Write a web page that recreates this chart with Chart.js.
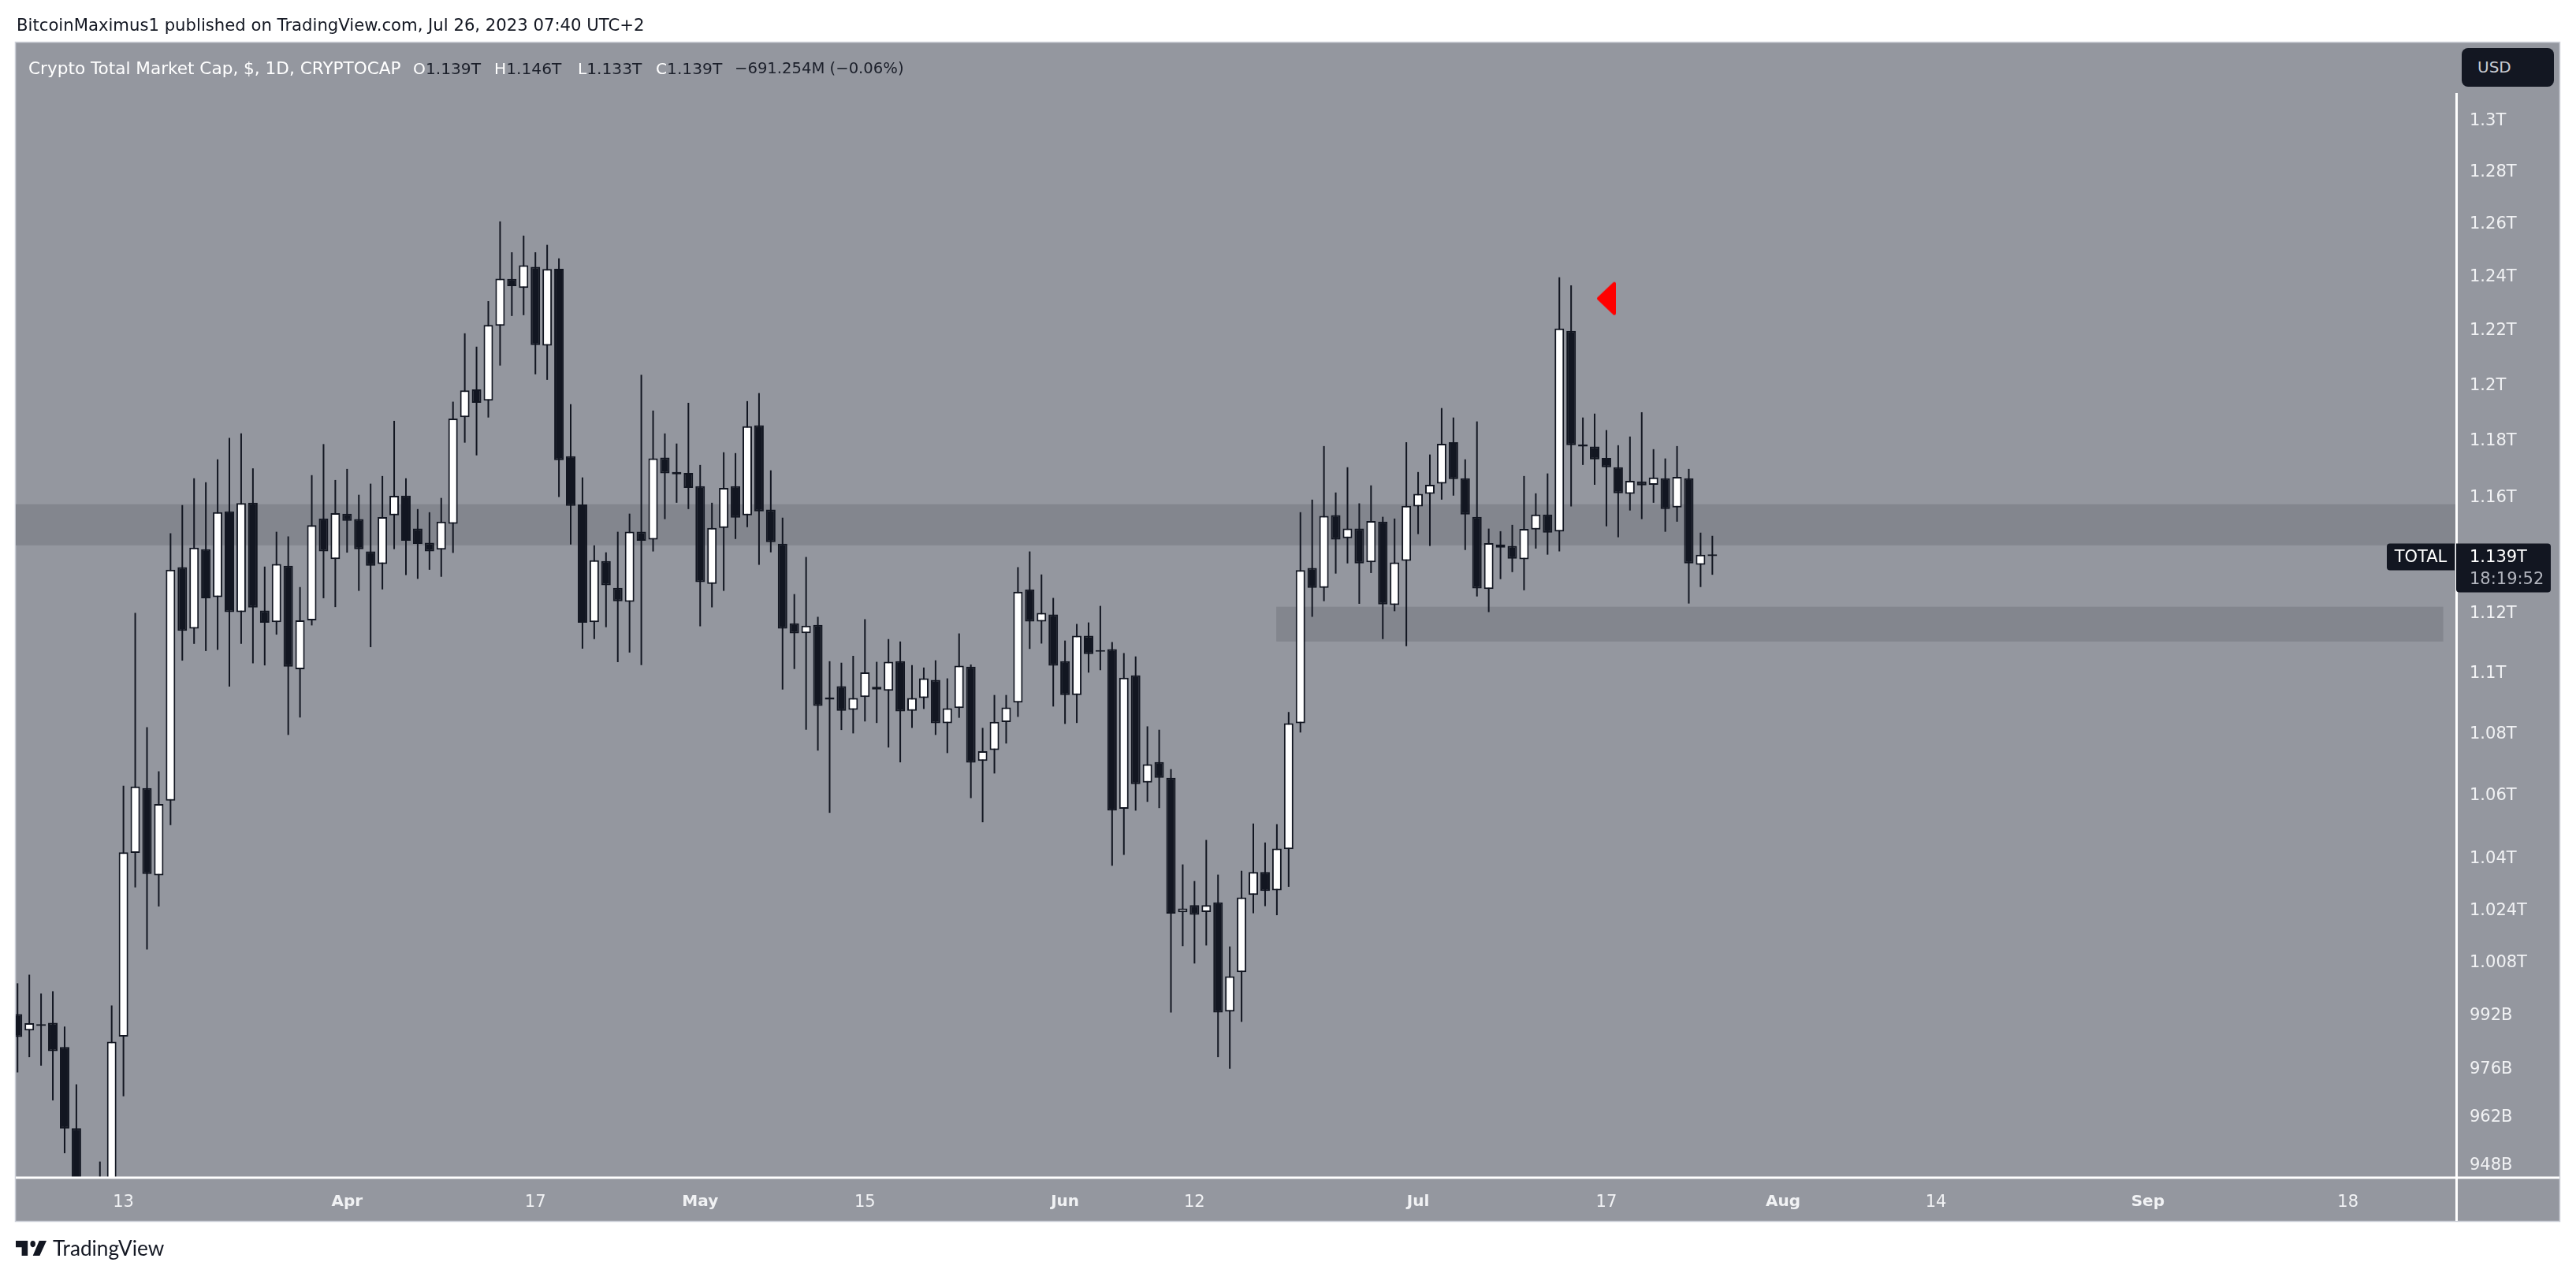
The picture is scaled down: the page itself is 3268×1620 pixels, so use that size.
<!DOCTYPE html>
<html><head><meta charset="utf-8">
<script src="https://cdn.jsdelivr.net/npm/chart.js@4"></script>
<style>
html,body{margin:0;padding:0;background:#fff;width:3268px;height:1620px;overflow:hidden;font-family:"DejaVu Sans",sans-serif}
canvas{position:absolute;left:0;top:0}
.t{position:absolute;white-space:pre;line-height:1}
#byline{left:21px;top:21px;font-size:21.2px;color:#131722}
.lg{top:77px;font-size:20.2px;color:#1b1f2a}
.lg i{font-style:normal;color:#fff}
#usd{position:absolute;left:3123px;top:61px;width:117px;height:49px;border-radius:8px;background:#131722;color:#c9ccd3;font-size:20px;line-height:49px;text-indent:20px}
#logo{position:absolute;left:20px;top:1574px;width:39px;height:19px}
#brand{left:67px;top:1570px;font-size:26.2px;color:#131722;font-family:"Lato",sans-serif}
</style></head><body>
<canvas id="c" width="3268" height="1620"></canvas>
<div class="t" id="byline">BitcoinMaximus1 published on TradingView.com, Jul 26, 2023 07:40 UTC+2</div>
<div class="t lg" style="left:36px;top:76px;font-size:21.6px;color:#fff">Crypto Total Market Cap, $, 1D, CRYPTOCAP</div>
<div class="t lg" style="left:524px"><i>O</i>1.139T</div>
<div class="t lg" style="left:627px"><i>H</i>1.146T</div>
<div class="t lg" style="left:733px"><i>L</i>1.133T</div>
<div class="t lg" style="left:832px"><i>C</i>1.139T</div>
<div class="t lg" style="left:932px;font-size:19.6px">−691.254M (−0.06%)</div>
<div id="usd">USD</div>
<svg id="logo" viewBox="0 6 36 14" preserveAspectRatio="none"><path fill="#131722" d="M14 6H0v6h7v8h7V6Z"/><circle fill="#131722" cx="20" cy="9" r="3"/><path fill="#131722" d="M28 20h-8l7.5-14H36l-8 14Z"/></svg>
<div class="t" id="brand">TradingView</div>
<script>
// Daily candles in billions of USD, first candle is 4 Mar 2023
const opens=[991.6,986.7,988.6,989,981.8,958,936,918,926,984.9,1041.1,1061.7,1034.1,1057.7,1135,1114.1,1141.2,1124.8,1154.3,1119.7,1157.3,1120.2,1116.3,1135.5,1100.5,1116.9,1151.8,1137.8,1153.5,1151.6,1140.4,1136.1,1152.9,1159.8,1148.3,1143.4,1141,1150,1187.6,1197.6,1193.6,1220.9,1238.3,1234.9,1242.8,1213.6,1242.1,1173.7,1156.7,1116.3,1137.1,1127.9,1123.2,1147.2,1144.5,1173.2,1168.1,1167.8,1163.1,1129.3,1148.5,1163.1,1152.9,1184.7,1154.9,1143.1,1115.9,1112.6,1115.4,1091.2,1094.9,1087.1,1091.3,1094.7,1093.4,1103.2,1086.8,1091,1097,1082.7,1087.7,1101.4,1070.5,1074,1083.1,1089.5,1127.4,1116.5,1118.9,1103.2,1092,1111.7,1106.9,1107.2,1055.1,1098.5,1063.5,1070.1,1065,1022.6,1024.8,1022.7,1025.7,992.4,1004.3,1028,1035.1,1029.4,1042.3,1082.7,1134.7,1127.9,1153,1145,1148.3,1136.7,1150.7,1122.1,1137.2,1156,1160.4,1164,1178.7,1165.9,1152.4,1127.5,1142.8,1142.3,1137.7,1148,1153.2,1147.3,1219,1177.9,1177.1,1173.1,1169.8,1160.4,1164.8,1163.6,1165.9,1155.7,1165.9,1135.8,1139.4];
const highs=[1000.9,1003.5,997.8,998.5,987.9,970.8,940,948.4,994.2,1062.5,1119.4,1081.4,1067.1,1146.7,1156.5,1165.9,1164.5,1172.6,1180.2,1181.8,1169.4,1135.2,1147.2,1145.6,1128.2,1167,1178,1165.3,1169.2,1160.1,1164,1166.7,1186.3,1165.9,1155.1,1154,1159,1193.2,1218.1,1213.2,1230,1260,1248.3,1254.6,1248.3,1251.1,1246,1192.3,1166.2,1142.5,1140.1,1147.2,1153.5,1202.9,1190,1181.8,1178.2,1192.8,1170.6,1157.3,1175.1,1174.8,1193.4,1196.3,1168.7,1152.1,1125.8,1138.5,1118.1,1103.2,1102.7,1105,1117.3,1103,1110.6,1109.8,1101.9,1101.1,1103.5,1097.5,1112.5,1102.1,1081.2,1092,1092,1135,1140.4,1132.5,1124.5,1110.1,1115.7,1116.2,1121.8,1109.6,1105.9,1104.8,1081.7,1080.6,1067.8,1037.5,1032.3,1045.2,1034.3,1012.1,1035.5,1050.4,1044.4,1050.2,1086.4,1154,1158.4,1177.3,1160.9,1169.8,1157.1,1163.4,1152.4,1151.8,1178.7,1168.1,1174.3,1190.9,1187.5,1172.6,1186.1,1148.3,1147.4,1149.6,1166.7,1160.6,1167.6,1238.9,1235.9,1187.5,1188.9,1183,1177.6,1180.7,1189.4,1176.2,1172.9,1177.3,1169.2,1146.9,1145.8];
const lows=[974.3,978.8,976.3,966.1,950.8,929,912,910,921,967.3,1030.3,1011.2,1024.4,1049.9,1103.4,1109,1106.6,1107,1094.8,1109,1102.5,1101.8,1112.1,1078.9,1084.6,1115.2,1124.4,1121.4,1140,1126.9,1107.9,1127.4,1141.2,1132.3,1131,1134.1,1131.7,1139.9,1178.5,1174,1187.5,1206.3,1224.5,1224.8,1203.1,1201.1,1159.3,1142.8,1107.4,1110.6,1114.6,1102.9,1106.1,1101.9,1140.4,1151.6,1157.3,1155.1,1114.9,1121.3,1126.9,1144.7,1148.8,1135.8,1140.1,1093.8,1100.6,1080.6,1073.8,1053.8,1080.5,1079.4,1083.3,1082.8,1074.8,1070,1081.2,1087.4,1078.9,1073,1084.5,1058.5,1050.8,1066.4,1076.1,1084.8,1107.3,1109.1,1088.2,1082.5,1082.8,1099.4,1100.2,1037.1,1040.5,1054.5,1057.3,1055.3,992.1,1012.2,1006.9,1012.4,978.8,975.4,989.3,1022.3,1024.5,1021.7,1030.5,1079.7,1118.1,1123.4,1132.8,1136.3,1122.5,1133,1110.6,1120,1108.2,1146.4,1142.3,1158.4,1159.8,1140.9,1125,1119.7,1130.9,1133.3,1127.1,1141.4,1139.3,1140.4,1156,1170.6,1163.6,1149.1,1145.3,1154.6,1151.6,1157.3,1147.2,1150.7,1122.6,1128.2,1132.4];
const closes=[984.8,988.9,988.1,980.6,957.9,936,918,926,983.4,1041.3,1062.2,1034.5,1056.6,1134.1,1113.4,1141.7,1124.4,1154,1119.7,1157.2,1121.2,1116.1,1136.1,1101.4,1116.9,1149.5,1140.4,1153.7,1151,1141.2,1135.5,1152.3,1159.7,1144.1,1143,1140.4,1150.7,1187.1,1197.3,1192.8,1221.2,1238.4,1235.6,1243.4,1213.8,1242,1172.3,1156.2,1116.1,1137.4,1128.8,1123.4,1147.2,1144.1,1172.9,1167.6,1167.3,1162.5,1129.9,1148.5,1162.5,1152.1,1184.4,1154.3,1143.6,1114.1,1112.5,1115.1,1088.4,1090.5,1086.8,1091,1099.5,1093.8,1103,1086.6,1091,1097.5,1082.7,1087.6,1101.7,1069.9,1073.6,1083.2,1087.9,1126.6,1116.5,1119.4,1101.7,1092,1111.7,1105.6,1106.4,1054.5,1097.7,1063,1069.4,1065,1022.2,1023.8,1021.8,1024.8,992.1,1003,1027.2,1035.1,1029.2,1042.5,1082.7,1134,1127.9,1152.7,1144.5,1148.3,1136.3,1150.9,1122.3,1136.6,1156.2,1160.4,1163.6,1178.1,1165.6,1153.2,1127.7,1143.3,1141.7,1137.9,1148.2,1153.2,1146.9,1219.9,1177.6,1177.1,1172.6,1169.8,1160.6,1165,1163.4,1166.2,1155.1,1166.4,1136.3,1139.3,1138.8];
const xTickIndex=[9,28,44,58,72,89,100,119,135,150,163,181,198];
const xTickLabels=["13","Apr","17","May","15","Jun","12","Jul","17","Aug","14","Sep","18"];
const monthLabels=["Apr","May","Jun","Jul","Aug","Sep"];
const yTickValues=[1300,1280,1260,1240,1220,1200,1180,1160,1120,1100,1080,1060,1040,1024,1008,992,976,962,948];
const yTickLabels=["1.3T","1.28T","1.26T","1.24T","1.22T","1.2T","1.18T","1.16T","1.12T","1.1T","1.08T","1.06T","1.04T","1.024T","1.008T","992B","976B","962B","948B"];
const bandWide=[1142.5,1156.8];
const bandSupport=[1109.8,1121.5];
const bandSupportSpan=[106.95,206.1];
const markerPoint={x:135,y:1231};
const priceLabel="1.139T",countdown="18:19:52",seriesTag="TOTAL";

const DARK="#121621",WHITE="#ffffff",BG="#94979f",BAND="#83868e",AXIS_TXT="#f1f2f4";
const FONT='"DejaVu Sans",sans-serif';
const AXIS_W=131,TIME_H=55;

function roundedTriangle(){
  const c=document.createElement("canvas");c.width=26;c.height=44;
  const g=c.getContext("2d");g.fillStyle="#ff0000";g.strokeStyle="#ff0000";g.lineWidth=4;g.lineJoin="round";
  g.beginPath();g.moveTo(3,22);g.lineTo(23,3);g.lineTo(23,41);g.closePath();g.fill();g.stroke();
  return c;
}
function rr(g,x,y,w,h,r){g.beginPath();g.roundRect(x,y,w,h,r);g.fill();}

const framePlugin={id:"frame",
  beforeDraw(ch){
    const g=ch.ctx,a=ch.chartArea;
    const R=a.right+AXIS_W,B=a.bottom+TIME_H;
    g.save();g.fillStyle=BG;g.fillRect(a.left,a.top,R-a.left,B-a.top);
    g.strokeStyle="#ced1d9";g.lineWidth=1.5;g.strokeRect(a.left-.5,a.top-.5,R-a.left+1,B-a.top+1);
    g.restore();
  },
  beforeDatasetsDraw(ch){
    const g=ch.ctx,a=ch.chartArea,x=ch.scales.x,y=ch.scales.y;
    g.save();g.fillStyle=BAND;
    let t=y.getPixelForValue(bandWide[1]),b=y.getPixelForValue(bandWide[0]);
    g.fillRect(a.left,t,a.right-a.left,b-t);
    t=y.getPixelForValue(bandSupport[1]);b=y.getPixelForValue(bandSupport[0]);
    const l=x.getPixelForValue(bandSupportSpan[0]),r=x.getPixelForValue(bandSupportSpan[1]);
    g.fillRect(l,t,r-l,b-t);
    g.restore();
  },
  afterDraw(ch){
    const g=ch.ctx,a=ch.chartArea,y=ch.scales.y;
    const R=a.right+AXIS_W,B=a.bottom+TIME_H;
    g.save();g.fillStyle="#ffffff";
    g.fillRect(a.left,a.bottom-1.5,R-a.left,3);
    g.fillRect(a.right-1,118,3,B-118);
    const py=y.getPixelForValue(closes[closes.length-1]);
    g.fillStyle=DARK;
    rr(g,a.right-88,py-16,86,34,[4,0,0,4]);
    rr(g,a.right,py-16,120,62,[0,4,4,4]);
    g.font='21px '+FONT;g.textBaseline="middle";
    g.fillStyle="#ffffff";g.textAlign="center";g.fillText(seriesTag,a.right-45,py+2.5);
    g.textAlign="left";g.fillText(priceLabel,a.right+17,py+2.5);
    g.fillStyle="#b2b5be";g.fillText(countdown,a.right+17,py+30.5);
    g.restore();
  }
};

const idx=opens.map((_,i)=>i);
new Chart(document.getElementById("c"),{
  type:"bar",
  data:{datasets:[
    {label:"marker",type:"scatter",order:0,data:[markerPoint],pointStyle:roundedTriangle(),pointRadius:22,showLine:false},
    {label:"body",order:1,grouped:false,barThickness:12,inflateAmount:0,borderSkipped:false,borderWidth:2,
     borderColor:DARK,
     backgroundColor:idx.map(i=>closes[i]>=opens[i]?WHITE:DARK),
     data:idx.map(i=>({x:i,y:[opens[i],closes[i]]}))},
    {label:"wick",order:2,grouped:false,barThickness:2,inflateAmount:0,borderWidth:0,
     backgroundColor:DARK,
     data:idx.map(i=>({x:i,y:[lows[i],highs[i]]}))}
  ]},
  plugins:[framePlugin],
  options:{
    responsive:false,animation:false,devicePixelRatio:1,
    layout:{autoPadding:false,padding:{left:20,top:54,right:21,bottom:71}},
    plugins:{legend:{display:false},title:{display:false},tooltip:{enabled:false}},
    scales:{
      x:{type:"linear",min:-0.15,max:207.2,offset:false,
        grid:{display:false,drawTicks:false},border:{display:false},
        afterBuildTicks(s){s.ticks=xTickIndex.map(v=>({value:v}));},
        afterFit(s){s.height=TIME_H;},
        ticks:{autoSkip:false,maxRotation:0,padding:19,color:AXIS_TXT,
          font:c=>monthLabels.includes(xTickLabels[c.index])?{family:FONT,size:20,weight:"bold"}:{family:FONT,size:21},
          callback:(v)=>xTickLabels[xTickIndex.indexOf(v)]}},
      y:{type:"logarithmic",position:"right",min:943.8,max:1329.96,
        grid:{display:false,drawTicks:false},border:{display:false},
        afterBuildTicks(s){s.ticks=yTickValues.map(v=>({value:v}));},
        afterFit(s){s.width=AXIS_W;},
        ticks:{autoSkip:false,padding:17,labelOffset:3.5,color:AXIS_TXT,font:{family:FONT,size:21},
          callback:(v)=>yTickLabels[yTickValues.indexOf(v)]}}
    }
  }
});
</script>
</body></html>
